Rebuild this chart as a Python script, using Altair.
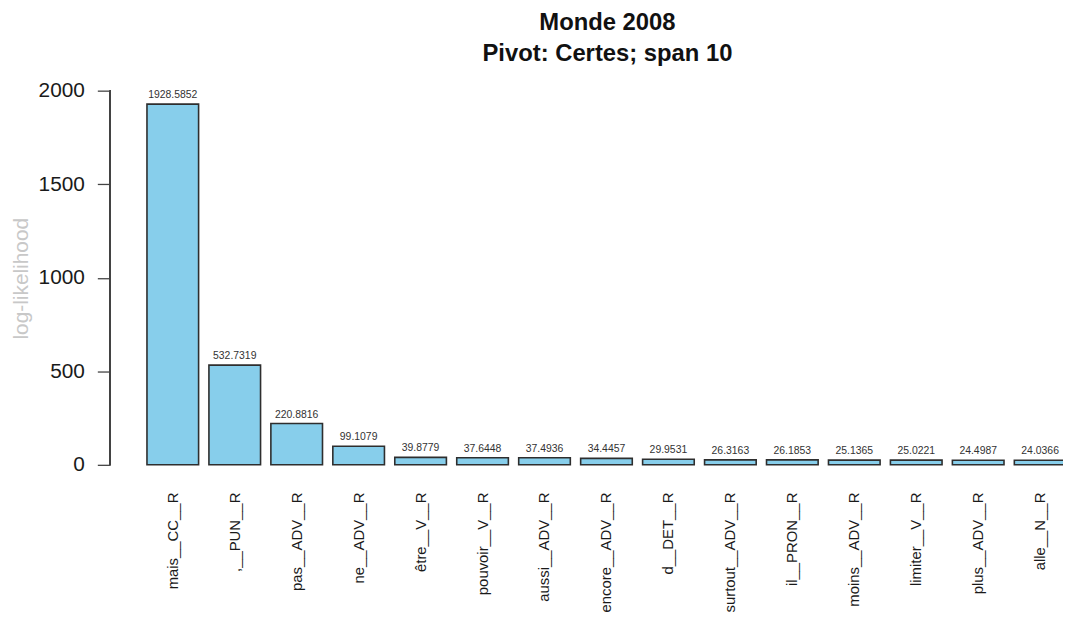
import altair as alt
import pandas as pd

words = ["mais__CC__R", ",__PUN__R", "pas__ADV__R", "ne__ADV__R", "être__V__R",
         "pouvoir__V__R", "aussi__ADV__R", "encore__ADV__R", "d__DET__R",
         "surtout__ADV__R", "il__PRON__R", "moins__ADV__R", "limiter__V__R",
         "plus__ADV__R", "alle__N__R"]
values = [1928.5852, 532.7319, 220.8816, 99.1079, 39.8779, 37.6448, 37.4936,
          34.4457, 29.9531, 26.3163, 26.1853, 25.1365, 25.0221, 24.4987, 24.0366]
y_ticks = [0, 500, 1000, 1500, 2000]

df = pd.DataFrame({"word": words, "ll": values})
FONT = "Liberation Sans"

xscale = alt.Scale(domain=words, range=[0, 1000], paddingInner=0.1667, paddingOuter=0.593)
yscale = alt.Scale(domain=[-77.14, 2005.73], nice=False, zero=False)

xenc = alt.X("word:N", sort=words, scale=xscale,
             axis=alt.Axis(title=None, labelAngle=-90, ticks=False, domain=False,
                           labelPadding=13, labelFontSize=15, labelFont=FONT,
                           labelColor="#1a1a1a", labelOverlap=False, labelLimit=300))

bars = alt.Chart(df).mark_bar(color="#87CEEB", stroke="#2e2e2e", strokeWidth=1.6).encode(
    x=xenc,
    y=alt.Y("ll:Q", scale=yscale,
            axis=alt.Axis(values=y_ticks, title="log-likelihood", grid=False, domain=False,
                          tickSize=13, tickColor="#444444", tickWidth=1.3,
                          labelPadding=13, labelFontSize=21, labelFont=FONT,
                          labelColor="#1a1a1a", format="d",
                          titleFont=FONT, titleFontSize=21, titleFontWeight="normal",
                          titleColor="#c8c8c8", titleX=-89.5, titleY=190,
                          titleAngle=270, titleAlign="center", titleBaseline="middle")),
    y2=alt.datum(0),
)

labels = alt.Chart(df).mark_text(baseline="bottom", dy=-4, fontSize=10.5, font=FONT,
                                 color="#333333").encode(
    x=alt.X("word:N", sort=words, scale=xscale),
    y=alt.Y("ll:Q", scale=yscale),
    text=alt.Text("ll:Q", format=".4f"),
)

axis_line = alt.Chart(df).mark_rule(color="#444444", strokeWidth=1.3).encode(
    x=alt.value(0),
    y=alt.datum(0, scale=yscale),
    y2=alt.datum(2000),
)

chart = alt.layer(bars, labels, axis_line).properties(
    width=960,
    height=392.5,
    background="white",
    title=alt.TitleParams(["Monde 2008", "Pivot: Certes; span 10"], font=FONT, fontSize=24,
                          fontWeight="bold", color="#111111", anchor="middle", frame="group",
                          lineHeight=31, offset=23, dx=21, dy=33, baseline="bottom"),
    autosize=alt.AutoSizeParams(type="none"),
    padding={"left": 103, "top": 80, "right": 0, "bottom": 132},
).configure_view(stroke=None)

chart.save("out.html", embed_options={"renderer": "svg", "actions": False})
